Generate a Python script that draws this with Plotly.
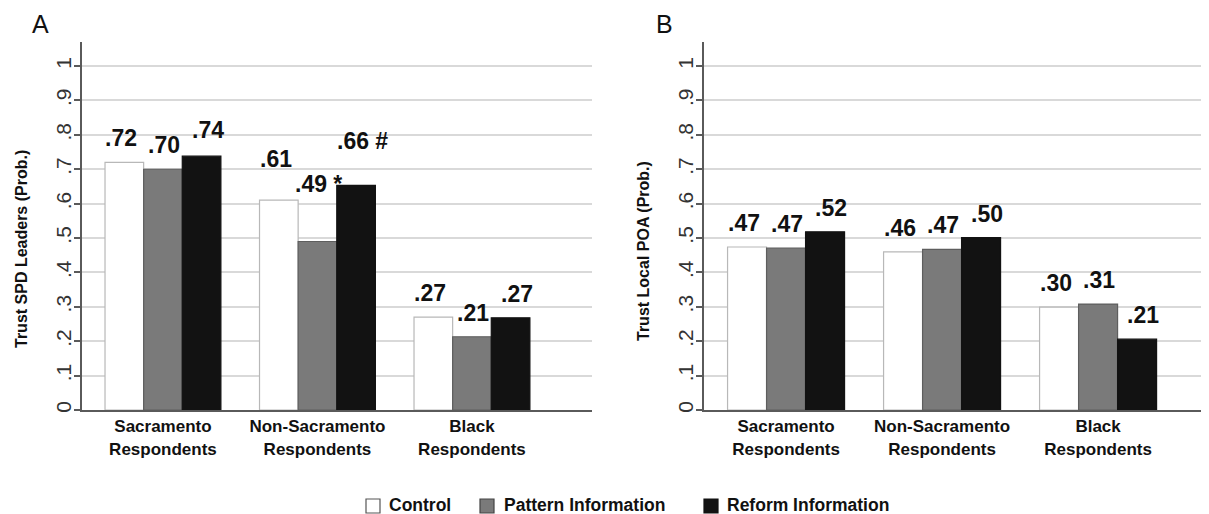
import plotly.graph_objects as go

categories = ["Sacramento<br>Respondents", "Non-Sacramento<br>Respondents", "Black<br>Respondents"]
series_names = ["Control", "Pattern Information", "Reform Information"]

# Panel A: Trust SPD Leaders (Prob.)
a_control = [0.72, 0.61, 0.27]
a_pattern = [0.70, 0.49, 0.213]
a_reform = [0.738, 0.653, 0.268]
a_labels = [[".72", ".61", ".27"], [".70", ".49 *", ".21"], [".74", ".66 #", ".27"]]

# Panel B: Trust Local POA (Prob.)
b_control = [0.474, 0.46, 0.299]
b_pattern = [0.471, 0.467, 0.308]
b_reform = [0.518, 0.501, 0.206]
b_labels = [[".47", ".46", ".30"], [".47", ".47", ".31"], [".52", ".50", ".21"]]

y_tickvals = [0, 0.1, 0.2, 0.3, 0.4, 0.5, 0.6, 0.7, 0.8, 0.9, 1.0]
y_ticktext = ["0", ".1", ".2", ".3", ".4", ".5", ".6", ".7", ".8", ".9", "1"]

# styling
FONT = "Liberation Sans, Arial"
fills = ["#ffffff", "#7a7a7a", "#121212"]
edges = ["#b8b8b8", "#5e5e5e", "#121212"]
legend_edges = ["#555555", "#444444", "#121212"]
label_xshift = [-3, 1, 6]
# extra lift (px) of labels, per series, per category
a_extra = [[0, 17, 0], [0, 33, 0], [2, 20, 0]]
b_extra = [[0, 0, 0], [0, 0, 0], [0, 0, 0]]
# legend layout (pixel positions in the page)
legend_box_left = [366, 480, 704]
legend_text_left = [387, 502, 725]
legend_y = 506
legend_box = 14

W, H = 1209, 514
OFF = 8  # page body margin offset


def fx(px):
    return (px - OFF) / W


def fy(py):
    return (H - (py - OFF)) / H


fig = go.Figure()

panels = [
    ("x", "y", [a_control, a_pattern, a_reform], a_labels, a_extra),
    ("x2", "y2", [b_control, b_pattern, b_reform], b_labels, b_extra),
]
xpos = list(range(len(categories)))
offsets = [-0.25, 0.0, 0.25]

for p, (xa, ya, vals, labs, extra) in enumerate(panels):
    for j, v in enumerate(vals):
        fig.add_trace(go.Bar(
            x=xpos, y=v, name=series_names[j], xaxis=xa, yaxis=ya,
            marker=dict(color=fills[j], line=dict(color=edges[j], width=1.2)),
            showlegend=False, offsetgroup=str(j), legendgroup=str(j),
            hoverinfo="skip",
        ))
        for i, val in enumerate(v):
            fig.add_annotation(
                x=xpos[i] + offsets[j], y=val, xref=xa, yref=ya,
                text=labs[j][i], showarrow=False, yanchor="bottom", xanchor="center",
                xshift=label_xshift[j], yshift=9 + extra[j][i],
                font=dict(family=FONT, size=23, color="#111111", weight="bold"),
            )

# legend drawn as boxes + text
for j, name in enumerate(series_names):
    fig.add_shape(type="rect", xref="paper", yref="paper",
                  x0=fx(legend_box_left[j]), x1=fx(legend_box_left[j] + legend_box),
                  y0=fy(legend_y + legend_box / 2), y1=fy(legend_y - legend_box / 2),
                  fillcolor=fills[j], line=dict(color=legend_edges[j], width=1.2))
    fig.add_annotation(x=fx(legend_text_left[j]), y=fy(legend_y - 1), xref="paper", yref="paper",
                       text=name, showarrow=False, xanchor="left", yanchor="middle",
                       font=dict(family=FONT, size=17.5, color="#111111", weight="bold"))

axis_common = dict(showgrid=False, zeroline=False, showline=True, linecolor="#5a5a5a",
                   linewidth=2, automargin=False)
yaxis_common = dict(
    range=[0, 1.07], tickvals=y_tickvals, ticktext=y_ticktext, tickangle=-90,
    ticks="outside", ticklen=6, tickcolor="#5a5a5a", tickwidth=1.5,
    ticklabelstandoff=-5,
    showgrid=True, gridcolor="#d9d9d9", gridwidth=1.5, zeroline=False,
    showline=True, linecolor="#5a5a5a", linewidth=1.5, automargin=False,
    tickfont=dict(family=FONT, size=21, color="#333333"),
)
xtick = dict(tickvals=xpos, ticktext=categories, ticks="",
             tickfont=dict(family=FONT, size=17, color="#111111", weight="bold"))

fig.update_layout(
    width=W, height=H,
    margin=dict(l=0, r=0, t=0, b=0, autoexpand=False),
    paper_bgcolor="white", plot_bgcolor="white",
    barmode="group", bargap=0.25, bargroupgap=0,
    font=dict(family=FONT),
    showlegend=False,
    xaxis=dict(domain=[fx(82), fx(592)], range=[-0.524, 2.777], anchor="y", **axis_common, **xtick),
    yaxis=dict(domain=[fy(410), fy(42)], anchor="x", **yaxis_common),
    xaxis2=dict(domain=[fx(704), fx(1209)], range=[-0.526, 2.711], anchor="y2", **axis_common, **xtick),
    yaxis2=dict(domain=[fy(410), fy(42)], anchor="x2", **yaxis_common),
)

# axis titles and panel letters
fig.add_annotation(x=fx(21), y=fy(249), xref="paper", yref="paper", text="Trust SPD Leaders (Prob.)",
                   xanchor="center", yanchor="middle",
                   textangle=-90, showarrow=False, font=dict(family=FONT, size=16, color="#111111", weight="bold"))
fig.add_annotation(x=fx(643), y=fy(251), xref="paper", yref="paper", text="Trust Local POA (Prob.)",
                   xanchor="center", yanchor="middle",
                   textangle=-90, showarrow=False, font=dict(family=FONT, size=16, color="#111111", weight="bold"))
fig.add_annotation(x=fx(40), y=fy(24), xref="paper", yref="paper", text="A",
                   xanchor="center", yanchor="middle",
                   showarrow=False, font=dict(family=FONT, size=25, color="#111111"))
fig.add_annotation(x=fx(664), y=fy(24), xref="paper", yref="paper", text="B",
                   xanchor="center", yanchor="middle",
                   showarrow=False, font=dict(family=FONT, size=25, color="#111111"))

fig.write_html("out.html")
